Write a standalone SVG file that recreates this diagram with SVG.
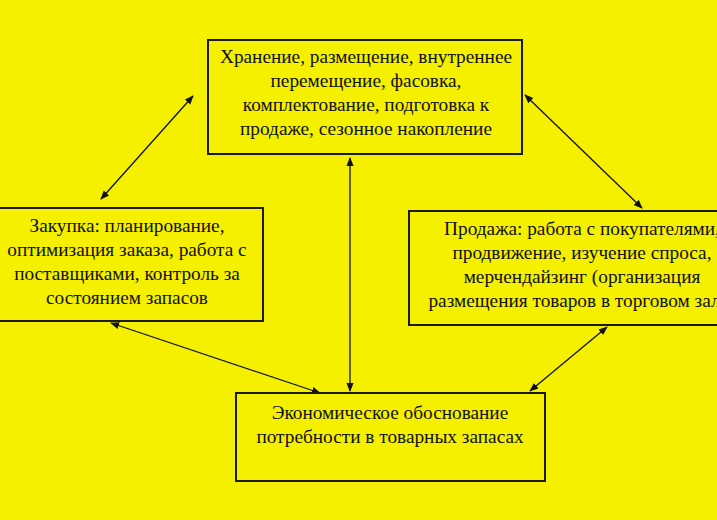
<svg xmlns="http://www.w3.org/2000/svg" width="717" height="520" viewBox="0 0 717 520">
<style>
.box{fill:#f5f000;stroke:#1a1a1a;stroke-width:2}
text{font-family:"Liberation Serif","Times New Roman",serif;font-size:19.3px;fill:#111;text-anchor:middle}
.c{stroke:#111;stroke-width:1.3;fill:none;marker-start:url(#a);marker-end:url(#a)}
</style>
<defs><marker id="a" viewBox="0 0 10 10" refX="9" refY="5" markerWidth="9" markerHeight="9" orient="auto-start-reverse" markerUnits="userSpaceOnUse"><path d="M0,1 L10,5 L0,9 Z" fill="#111"/></marker></defs>
<rect width="717" height="520" fill="#f5f000"/>
<g id="connectors">
<line class="c" x1="193" y1="96" x2="101" y2="199"/>
<line class="c" x1="525" y1="95" x2="642" y2="208"/>
<line class="c" x1="350" y1="158" x2="350" y2="391"/>
<line class="c" x1="111" y1="323" x2="320" y2="393"/>
<line class="c" x1="530" y1="391" x2="607" y2="327"/>
</g>
<g id="storage"><rect class="box" x="208" y="40" width="314" height="114"/>
<text x="366" y="63">Хранение, размещение, внутреннее</text>
<text x="366" y="87">перемещение, фасовка,</text>
<text x="366" y="111">комплектование, подготовка к</text>
<text x="366" y="135">продаже, сезонное накопление</text></g>
<g id="purchase"><rect class="box" x="-10" y="208" width="273" height="113"/>
<text x="127" y="232">Закупка: планирование,</text>
<text x="127" y="256">оптимизация заказа, работа с</text>
<text x="127" y="280">поставщиками, контроль за</text>
<text x="127" y="304">состоянием запасов</text></g>
<g id="sales"><rect class="box" x="409" y="211" width="340" height="114"/>
<text x="582" y="235">Продажа: работа с покупателями,</text>
<text x="582" y="259">продвижение, изучение спроса,</text>
<text x="582" y="283">мерчендайзинг (организация</text>
<text x="582" y="307">размещения товаров в торговом зале)</text></g>
<g id="economics"><rect class="box" x="236" y="393" width="309" height="88"/>
<text x="390" y="419">Экономическое обоснование</text>
<text x="390" y="443">потребности в товарных запасах</text></g>
</svg>
